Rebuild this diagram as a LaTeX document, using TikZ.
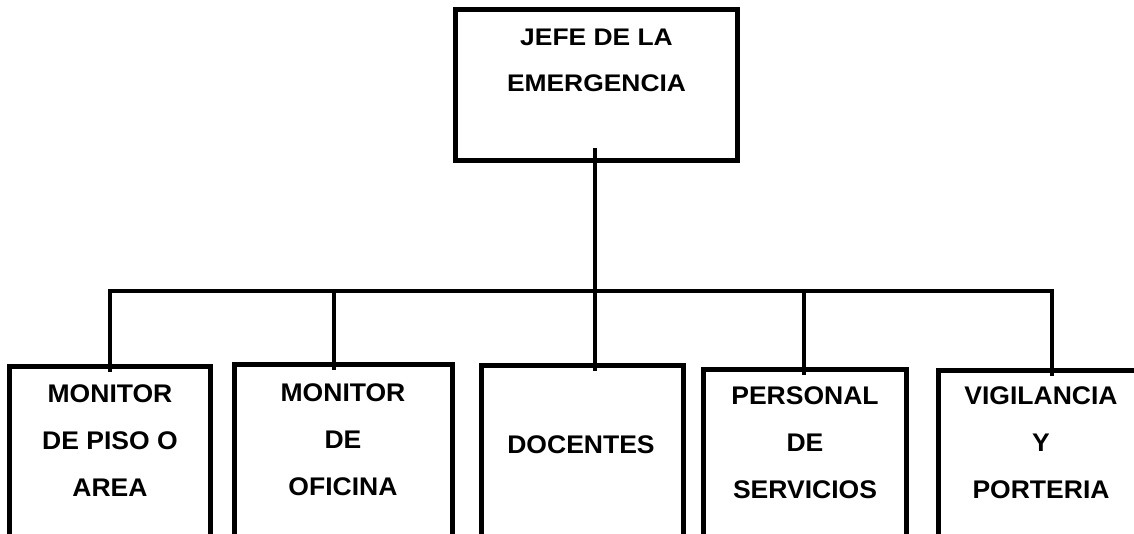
\documentclass[tikz,border=0pt]{standalone}
\usepackage{fontspec}
\setmainfont{Liberation Sans}
\newfontfamily\topfont{Liberation Sans}[FakeStretch=1.1]
\newfontfamily\botfont{Liberation Sans}[FakeStretch=1.04]
\begin{document}
\begin{tikzpicture}[x=1pt,y=-1pt,
  box/.style={draw=black, line width=5pt, rectangle, inner sep=0pt, fill=none},
  conn/.style={draw=black, line width=4pt},
  toplbl/.style={inner sep=0pt, align=center, font=\topfont\bfseries\fontsize{24}{46}\selectfont},
  botlbl/.style={inner sep=0pt, align=center, font=\botfont\bfseries\fontsize{25.5}{47}\selectfont}]
\useasboundingbox (0,0) rectangle (1134,533);
\clip (0,0) rectangle (1134,533);
% boxes
\node[box, minimum width=282pt, minimum height=151pt] (top) at (596.5,85) {};
\node[box, minimum width=201pt, minimum height=224pt] (b1) at (110,478) {};
\node[box, minimum width=218pt, minimum height=225.5pt] (b2) at (343.5,477.25) {};
\node[box, minimum width=202pt, minimum height=224.5pt] (b3) at (582.5,477.75) {};
\node[box, minimum width=203pt, minimum height=221pt] (b4) at (805,479.5) {};
\node[box, minimum width=207.5pt, minimum height=220pt] (b5) at (1042.25,480) {};
% labels
\node[toplbl] (ttop) at (596.5,60.5) {JEFE DE LA\\EMERGENCIA};
\node[botlbl] (t1) at (110,441) {MONITOR\\DE PISO O\\AREA};
\node[botlbl] (t2) at (343,439.5) {MONITOR\\DE\\OFICINA};
\node[botlbl] (t3) at (581,445) {DOCENTES};
\node[botlbl] (t4) at (805,443) {PERSONAL\\DE\\SERVICIOS};
\node[botlbl] (t5) at (1041,443) {VIGILANCIA\\Y\\PORTERIA};
% connector coordinates
\coordinate (s) at (595,148);
\coordinate (hl) at (108,291);
\coordinate (hr) at (1054,291);
\coordinate (d1) at (110,289);
\coordinate (d2) at (334,289);
\coordinate (d4) at (804,289);
\coordinate (d5) at (1052,289);
% connectors
\draw[conn] (s) -- (s |- b3.north) -- ++(0,8);
\draw[conn] (hl) -- (hr);
\draw[conn] (d1) -- (d1 |- b1.north) -- ++(0,8);
\draw[conn] (d2) -- (d2 |- b2.north) -- ++(0,8);
\draw[conn] (d4) -- (d4 |- b4.north) -- ++(0,8);
\draw[conn] (d5) -- (d5 |- b5.north) -- ++(0,8);
\end{tikzpicture}
\end{document}
